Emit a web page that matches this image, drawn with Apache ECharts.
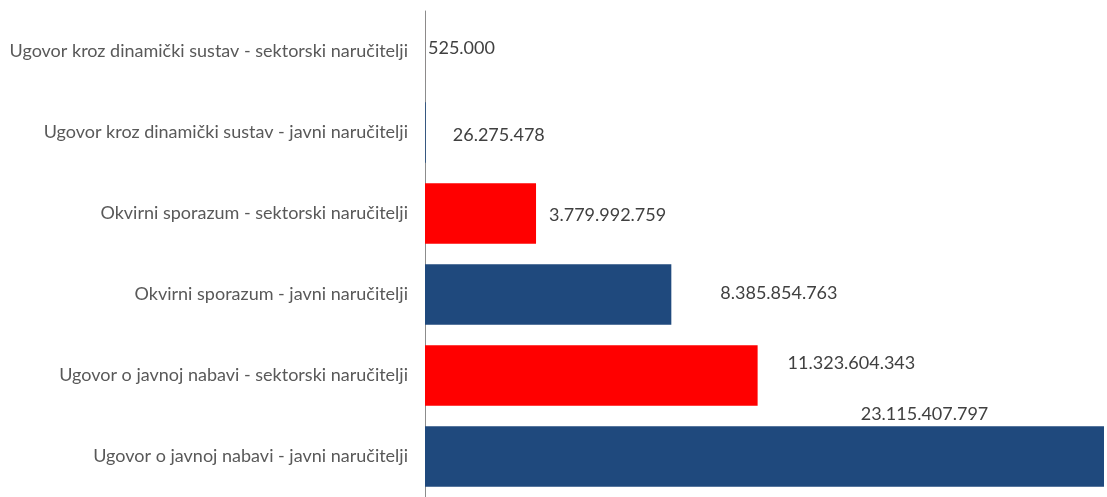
<!DOCTYPE html>
<html><head><meta charset="utf-8">
<script src="https://cdn.jsdelivr.net/npm/echarts@6/dist/echarts.min.js"></script>
<style>html,body{margin:0;padding:0;background:#fff}#c{width:1107px;height:497px}</style>
</head><body><div id="c"></div>
<script>
// Categories listed bottom to top (as drawn by a category y-axis)
const categories = [
  "Ugovor o javnoj nabavi - javni naručitelji",
  "Ugovor o javnoj nabavi - sektorski naručitelji",
  "Okvirni sporazum - javni naručitelji",
  "Okvirni sporazum - sektorski naručitelji",
  "Ugovor kroz dinamički sustav - javni naručitelji",
  "Ugovor kroz dinamički sustav - sektorski naručitelji"
];
const values = [23115407797, 11323604343, 8385854763, 3779992759, 26275478, 525000];
const groups = ["javni", "sektorski", "javni", "sektorski", "javni", "sektorski"];

const colorFor = { javni: "#1F497D", sektorski: "#FF0000" };
// label placement tweaks (style only), mimicking manually placed data labels
const labelStyle = [
  { position: "top", distance: 5, offset: [160, 2] },
  { position: "right", distance: 0, offset: [30, -12] },
  { position: "right", distance: 0, offset: [49, -1] },
  { position: "right", distance: 0, offset: [13, 2] },
  { position: "right", distance: 0, offset: [27, 3] },
  { position: "right", distance: 0, offset: [3, -3] }
];

function fmt(v) { return String(v).replace(/\B(?=(\d{3})+(?!\d))/g, "."); }

const FONT = "Lato";
const chart = echarts.init(document.getElementById("c"), null, { renderer: "canvas" });
chart.setOption({
  animation: false,
  grid: { left: 425, right: 3, top: 11, height: 491, containLabel: false },
  xAxis: {
    type: "value", min: 0, max: values[0],
    show: false
  },
  yAxis: {
    type: "category", data: categories,
    axisLine: { show: true, lineStyle: { color: "#8c8c8c", width: 1 } },
    axisTick: { show: false },
    axisLabel: { color: "#595959", fontFamily: FONT, fontSize: 18, margin: 17 }
  },
  series: [{
    type: "bar",
    barCategoryGap: "25.5%",
    data: values.map((v, i) => ({
      value: v,
      itemStyle: { color: colorFor[groups[i]] },
      label: Object.assign({ show: true }, labelStyle[i])
    })),
    label: {
      show: true, color: "#404040", fontFamily: FONT, fontSize: 18,
      formatter: p => fmt(p.value)
    }
  }]
});
</script></body></html>
